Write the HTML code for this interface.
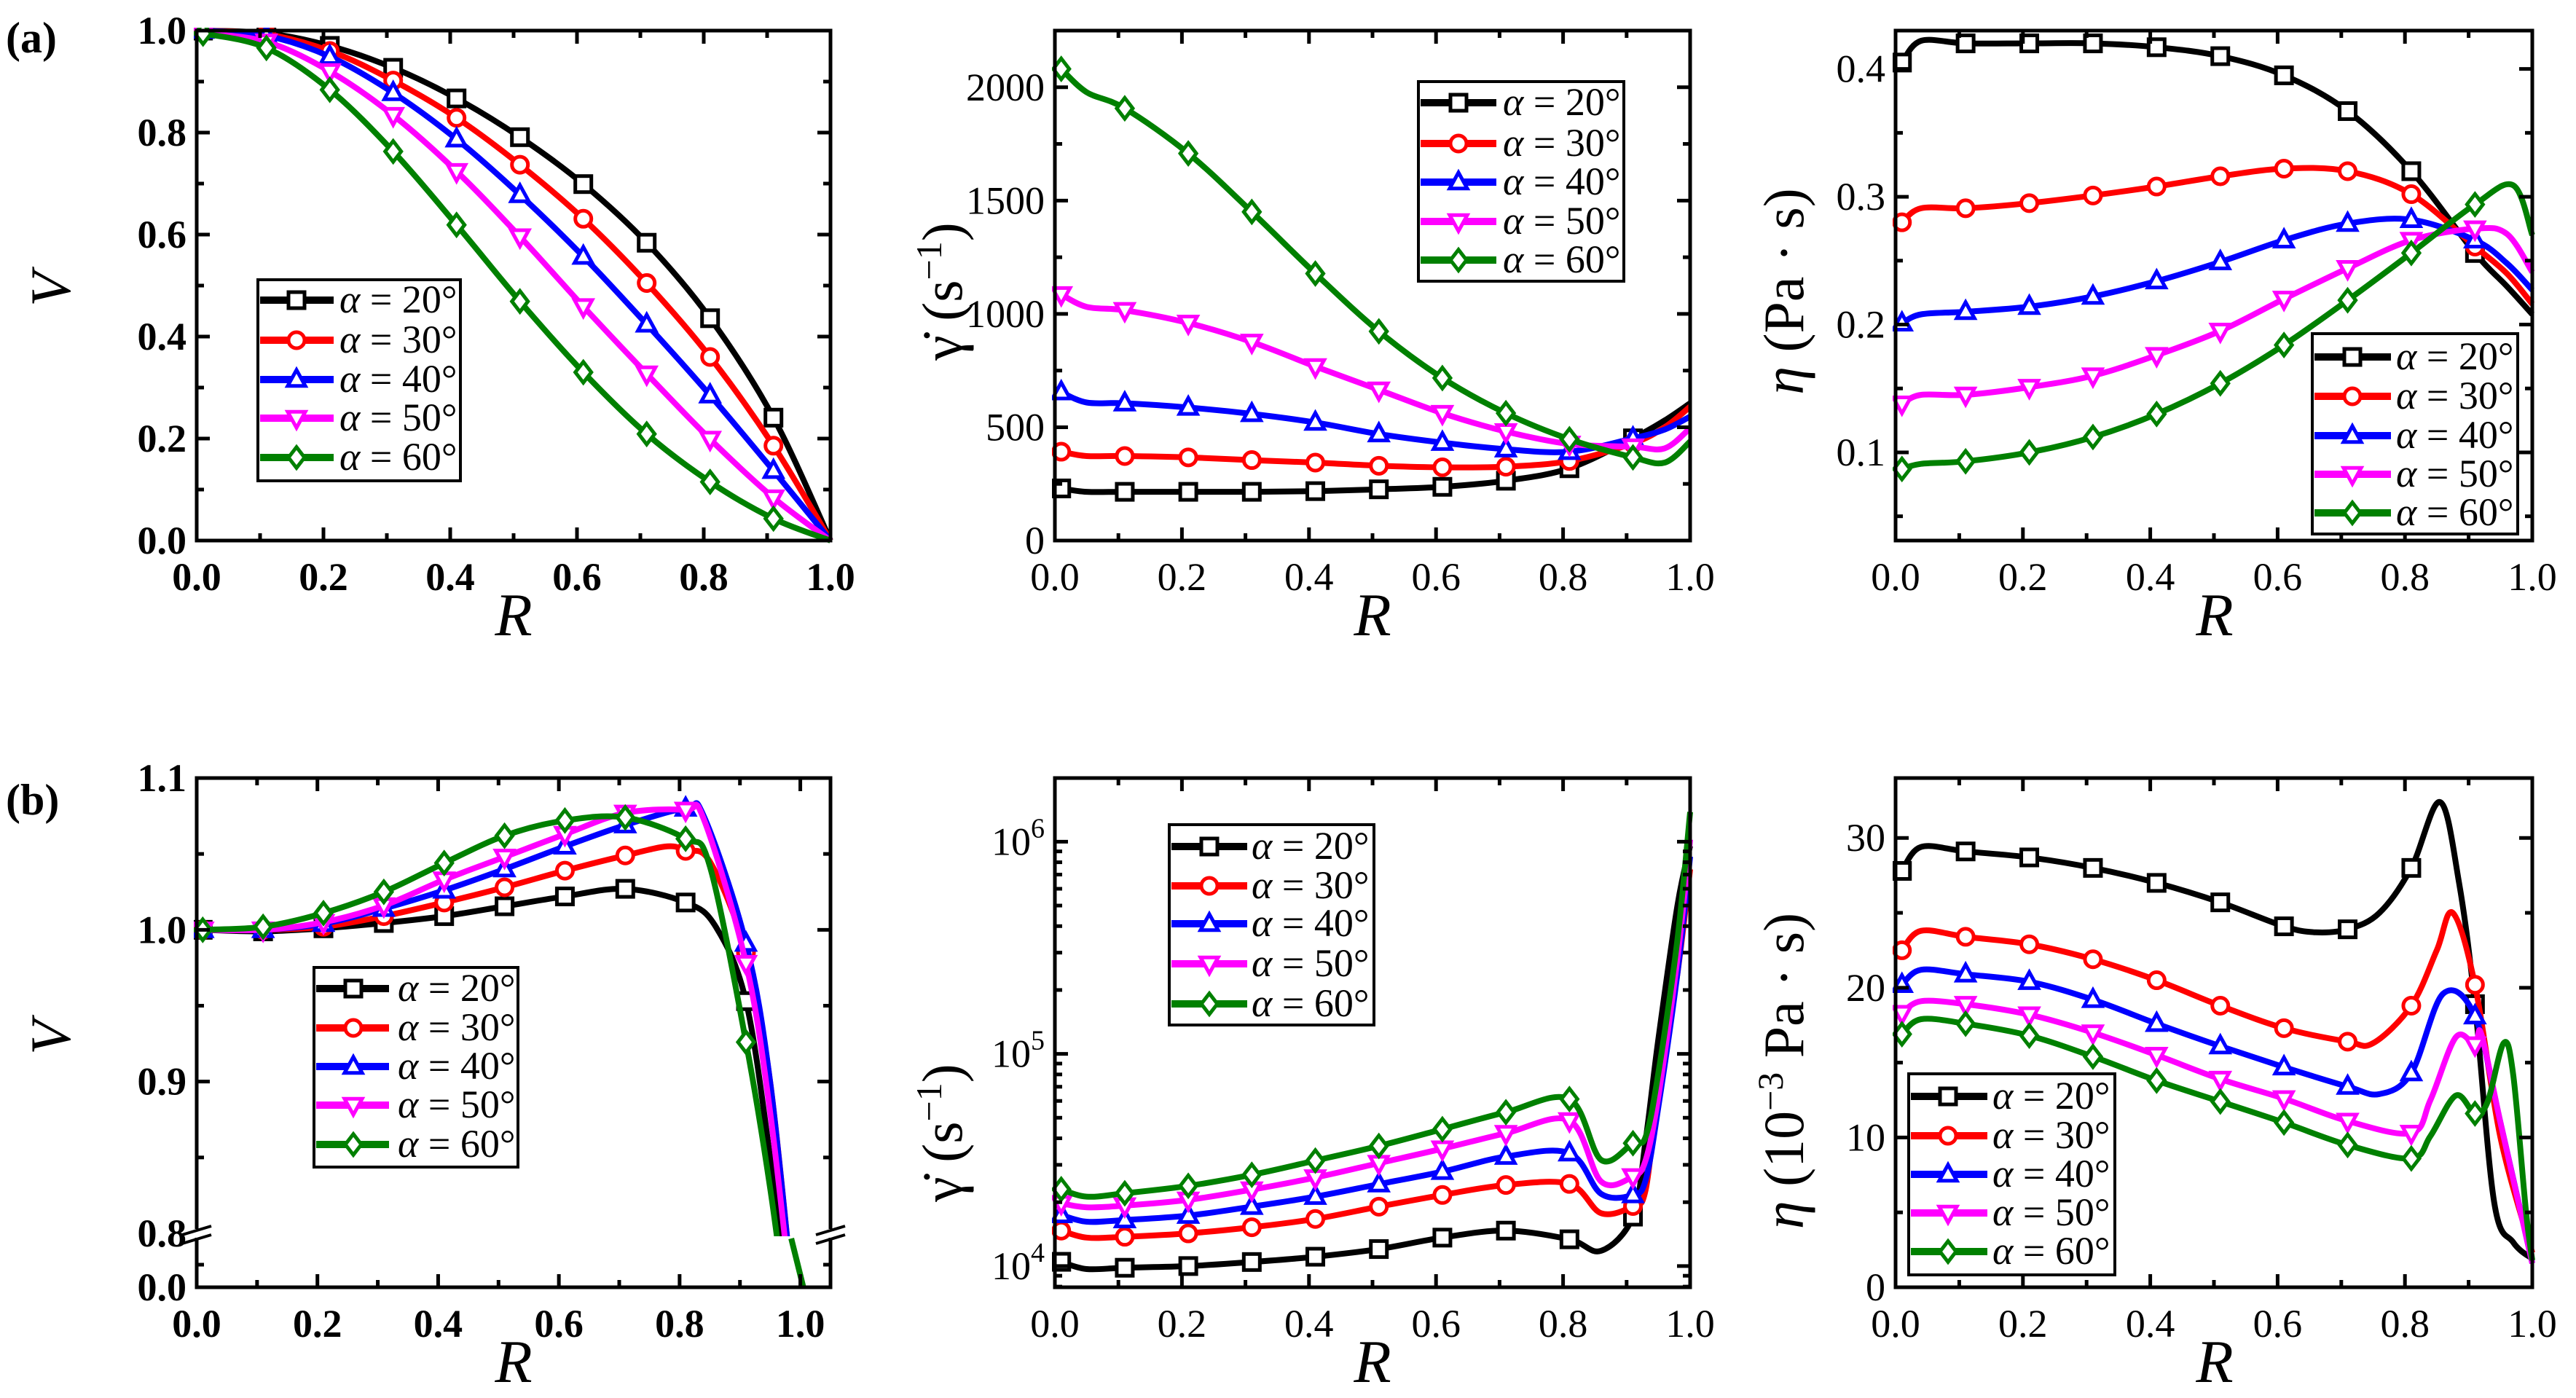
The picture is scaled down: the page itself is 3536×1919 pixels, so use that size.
<!DOCTYPE html>
<html><head><meta charset="utf-8"><style>
html,body{margin:0;padding:0;background:#fff;}
svg{display:block;font-family:"Liberation Serif","DejaVu Serif",serif;}
</style></head><body>
<svg id="fig" xmlns="http://www.w3.org/2000/svg" width="3536" height="1919" viewBox="0 0 3536 1919" font-family="Liberation Serif, DejaVu Serif, serif">
<rect width="3536" height="1919" fill="#fff"/>
<text x="8" y="72" font-size="60" font-weight="bold">(a)</text>
<text x="8" y="1118" font-size="60" font-weight="bold">(b)</text>
</svg>
<script>
// ---------- data ----------
const alphaLabels = ["20","30","40","50","60"];
const seriesColors = ["#000000","#ff0000","#0000ff","#ff00ff","#008000"];
const markerShapes = ["square","circle","up","down","diamond"];
const markerR = [0.01,0.11,0.21,0.31,0.41,0.51,0.61,0.71,0.81,0.91];

// a1: V vs R
const a1R = [0,0.01,0.11,0.21,0.31,0.41,0.51,0.61,0.71,0.81,0.91,1.0];
const a1Black = [1.0,1.0,0.995,0.97,0.927,0.867,0.791,0.699,0.584,0.436,0.241,0.0];
const a1Red = [1.0,1.0,0.993,0.96,0.902,0.829,0.737,0.631,0.505,0.36,0.186,0];
const a1Blue = [1,1,0.99,0.949,0.878,0.787,0.678,0.557,0.424,0.285,0.137,0];
const a1Magenta = [1,0.995,0.978,0.92,0.834,0.724,0.596,0.459,0.327,0.199,0.084,0];
const a1Green = [0.99,0.994,0.966,0.884,0.763,0.619,0.469,0.33,0.209,0.115,0.043,0];

// a2: shear rate vs R
const a2R = [0.01,0.05,0.11,0.21,0.31,0.41,0.51,0.61,0.71,0.81,0.91,0.96,1.0];
const a2Black = [230,215,215,215,215,218,226,237,264,319,451,530,606];
const a2Red = [392,373,373,367,355,344,330,323,326,351,429,500,591];
const a2Blue = [655,609,606,587,559,521,470,432,403,392,451,490,547];
const a2Magenta = [1086,1031,1016,960,876,768,665,562,481,426,414,407,496];
const a2Green = [2081,1978,1907,1708,1450,1178,923,717,562,447,367,344,437];

// a3: viscosity vs R
const a3R = [0.01,0.04,0.11,0.21,0.31,0.41,0.51,0.61,0.71,0.81,0.91,0.96,1.0];
const a3RGreen = [0.01,0.04,0.11,0.21,0.31,0.41,0.51,0.61,0.71,0.81,0.91,0.97,1.0];
const a3Black = [0.405,0.422,0.42,0.42,0.42,0.417,0.41,0.395,0.367,0.32,0.256,0.23,0.208];
const a3Red = [0.28,0.291,0.291,0.295,0.301,0.308,0.316,0.322,0.32,0.302,0.261,0.24,0.216];
const a3Blue = [0.201,0.208,0.21,0.214,0.222,0.234,0.249,0.266,0.279,0.282,0.266,0.248,0.227];
const a3Magenta = [0.138,0.145,0.145,0.151,0.160,0.176,0.195,0.220,0.244,0.266,0.275,0.271,0.241];
const a3Green = [0.087,0.091,0.093,0.100,0.112,0.130,0.154,0.184,0.219,0.256,0.294,0.309,0.27];

// b1: V vs R (broken axis)
const b1RBlack = [0.01,0.11,0.21,0.31,0.41,0.51,0.61,0.71,0.81,0.86,0.91,0.95,0.98];
const b1Black = [1.0,0.999,1.001,1.0045,1.009,1.0155,1.022,1.027,1.018,1.002,0.953,0.85,0.75];
const b1RRed = [0.01,0.11,0.21,0.31,0.41,0.51,0.61,0.71,0.78,0.81,0.85,0.91,0.95,0.99];
const b1Red = [1,1,1.002,1.009,1.018,1.028,1.039,1.049,1.055,1.052,1.045,0.985,0.9,0.75];
const b1RBlue = [0.01,0.11,0.21,0.31,0.41,0.51,0.61,0.71,0.81,0.84,0.91,0.95,0.99];
const b1Blue = [1,1,1.004,1.014,1.026,1.040,1.055,1.069,1.080,1.075,0.991,0.9,0.75];
const b1Magenta = [1,1,1.005,1.016,1.033,1.048,1.063,1.077,1.079,1.073,0.978,0.88,0.74];
const b1RGreen = [0.01,0.11,0.21,0.31,0.41,0.51,0.61,0.71,0.81,0.85,0.91,0.95,0.98];
const b1Green = [1,1.002,1.011,1.025,1.044,1.062,1.072,1.074,1.06,1.042,0.926,0.83,0.74];
const b1GreenLowR = [0.985,1.005];
const b1GreenLow = [0.8,0.0];

// b2: log10 of shear rate vs R
const b2R = [0.01,0.05,0.11,0.21,0.31,0.41,0.51,0.61,0.71,0.81,0.86,0.91,0.93,0.95,0.98,1.0];
const b2BlackLog = [4.02,3.986,3.992,4.0,4.019,4.044,4.08,4.134,4.167,4.126,4.072,4.233,4.595,5.07,5.70,5.98];
const b2RedLog = [4.167,4.134,4.138,4.154,4.183,4.222,4.28,4.335,4.382,4.387,4.249,4.283,4.36,4.83,5.38,5.87];
const b2BlueLog = [4.241,4.209,4.217,4.238,4.28,4.327,4.386,4.445,4.516,4.532,4.34,4.335,4.406,4.75,5.38,5.93];
const b2MagentaLog = [4.296,4.277,4.285,4.312,4.36,4.417,4.485,4.553,4.626,4.686,4.398,4.422,4.5,4.8,5.45,6.01];
const b2GreenLog = [4.362,4.327,4.343,4.378,4.43,4.497,4.566,4.645,4.725,4.787,4.50,4.579,4.61,4.91,5.54,6.14];

// b3: viscosity (1e-3 Pa s) vs R
const b3RBlack = [0.01,0.04,0.11,0.21,0.31,0.41,0.51,0.61,0.66,0.71,0.76,0.81,0.855,0.885,0.91,0.94,0.97,1.0];
const b3Black = [27.8,29.4,29.1,28.7,28.0,27.0,25.7,24.1,23.7,23.9,25.0,28.0,32.4,27,18.9,5.7,3.0,1.9];
const b3RRed = [0.01,0.04,0.11,0.21,0.31,0.41,0.51,0.61,0.71,0.75,0.81,0.85,0.875,0.91,0.95,1.0];
const b3Red = [22.5,23.8,23.4,22.9,21.9,20.5,18.8,17.3,16.4,16.3,18.8,22.5,25.0,20.2,10,2.3];
const b3RBlue = [0.01,0.04,0.11,0.21,0.31,0.41,0.51,0.61,0.71,0.76,0.81,0.86,0.91,0.95,1.0];
const b3Blue = [20.2,21.2,20.9,20.4,19.2,17.6,16.1,14.7,13.4,12.9,14.3,19.6,18.1,11,1.6];
const b3RMagenta = [0.01,0.04,0.11,0.21,0.31,0.41,0.51,0.61,0.71,0.81,0.84,0.88,0.91,0.92,0.95,1.0];
const b3Magenta = [18.3,19.1,18.9,18.2,17.0,15.5,13.9,12.6,11.1,10.3,12.5,16.7,16.2,16.9,11,1.6];
const b3RGreen = [0.01,0.04,0.11,0.21,0.31,0.41,0.51,0.61,0.71,0.81,0.84,0.88,0.91,0.93,0.955,0.97,0.99,1.0];
const b3Green = [16.9,17.9,17.6,16.8,15.4,13.8,12.4,11.0,9.5,8.6,10.1,12.8,11.6,12.4,16.3,14.2,5.1,1.8];

// ---------- drawing ----------
const NS = "http://www.w3.org/2000/svg";
const svg = document.getElementById("fig");
function mk(tag, attrs, parent){ const e=document.createElementNS(NS,tag); for(const k in attrs) e.setAttribute(k,attrs[k]); (parent||svg).appendChild(e); return e; }

function smooth(pts){
  let d = "M"+pts[0][0].toFixed(1)+","+pts[0][1].toFixed(1);
  const n = pts.length;
  for(let i=0;i<n-1;i++){
    const p0=pts[Math.max(i-1,0)], p1=pts[i], p2=pts[i+1], p3=pts[Math.min(i+2,n-1)];
    const c1=[p1[0]+(p2[0]-p0[0])/6, p1[1]+(p2[1]-p0[1])/6];
    const c2=[p2[0]-(p3[0]-p1[0])/6, p2[1]-(p3[1]-p1[1])/6];
    d += " C"+c1[0].toFixed(1)+","+c1[1].toFixed(1)+" "+c2[0].toFixed(1)+","+c2[1].toFixed(1)+" "+p2[0].toFixed(1)+","+p2[1].toFixed(1);
  }
  return d;
}
function interp(xs, ys, x){
  for(let i=0;i<xs.length-1;i++){ if(x>=xs[i] && x<=xs[i+1]){ const t=(x-xs[i])/(xs[i+1]-xs[i]); return ys[i]+t*(ys[i+1]-ys[i]); } }
  return x<xs[0]?ys[0]:ys[ys.length-1];
}
function marker(g, shape, cx, cy, color, s){
  const a = {fill:"#fff", stroke:color, "stroke-width":5};
  let e;
  if(shape==="square") e=mk("rect",Object.assign({x:cx-s,y:cy-s,width:2*s,height:2*s},a),g);
  else if(shape==="circle") e=mk("circle",Object.assign({cx:cx,cy:cy,r:s},a),g);
  else if(shape==="up") e=mk("polygon",Object.assign({points:`${cx},${cy-s*1.2} ${cx-s*1.1},${cy+s*0.8} ${cx+s*1.1},${cy+s*0.8}`},a),g);
  else if(shape==="down") e=mk("polygon",Object.assign({points:`${cx},${cy+s*1.2} ${cx-s*1.1},${cy-s*0.8} ${cx+s*1.1},${cy-s*0.8}`},a),g);
  else e=mk("polygon",Object.assign({points:`${cx},${cy-s*1.3} ${cx+s},${cy} ${cx},${cy+s*1.3} ${cx-s},${cy}`},a),g);
  
  
}

function axesFrame(P, name){
  const r = mk("rect",{x:P.x,y:P.y,width:P.w,height:P.h,fill:"none",stroke:"#000","stroke-width":5});
  
  
}
function tick(x1,y1,x2,y2){ const l=mk("line",{x1,y1,x2,y2,stroke:"#000","stroke-width":5});   }
function label(x,y,txt,anchor,size,bold,name){
  const t=mk("text",{x,y,"text-anchor":anchor,"font-size":size});
  if(bold) t.setAttribute("font-weight","bold");
  t.textContent=txt;
  
  
  return t;
}
function xAxis(P, bold, labelY){
  const sx=v=>P.x+(v/P.xmax)*P.w;
  for(let k=0;k*0.1<=P.xmax+1e-9;k++){
    const v=k*0.1, x=sx(v), major=(k%2===0), L=major?18:10;
    tick(x,P.y+P.h,x,P.y+P.h-L); tick(x,P.y,x,P.y+L);
    if(major) label(x,labelY,v.toFixed(1),"middle",54,bold,"x-tick-label");
  }
}
function yTicksLinear(P, sy, vmin, vmax, step, minorStep, fmt, bold){
  const k0=Math.ceil(vmin/minorStep-1e-9), k1=Math.floor(vmax/minorStep+1e-9);
  const ratio=Math.round(step/minorStep);
  for(let k=k0;k<=k1;k++){
    const v=k*minorStep, y=sy(v), major=(k%ratio===0);
    const L=major?18:10;
    tick(P.x,y,P.x+L,y); tick(P.x+P.w,y,P.x+P.w-L,y);
    if(major) label(P.x-14,y+18,fmt(v),"end",54,bold,"y-tick-label");
  }
}
function drawSeries(P, clipId, Rs, Vs, sx, sy, idx, name, mR){
  const g=mk("g",{"clip-path":`url(#${clipId})`});
  
  
  const pts=Rs.map((r,i)=>[sx(r),sy(Vs[i])]);
  const p=mk("path",{d:smooth(pts),fill:"none",stroke:seriesColors[idx],"stroke-width":8,"stroke-linejoin":"round"},g);
  
  
  (mR||markerR).forEach(r=>{ if(r>=Rs[0]&&r<=Rs[Rs.length-1]) marker(g,markerShapes[idx],sx(r),sy(interp(Rs,Vs,r)),seriesColors[idx],11); });
}
function clip(id,x,y,w,h){ let defs=svg.querySelector("defs")||mk("defs",{}); mk("clipPath",{id},defs); const c=svg.querySelector("#"+id); mk("rect",{x:x-4,y:y-4,width:w+8,height:h+8},c); }
function legend(name, bx, by, bw, bh, rowYs, lx1, lx2, mx, tx){
  const g=mk("g",{});
  
  
  mk("rect",{x:bx,y:by,width:bw,height:bh,fill:"#fff",stroke:"#000","stroke-width":4},g);
  rowYs.forEach((y,i)=>{
    const e=mk("g",{},g);
    
    
    mk("line",{x1:lx1,y1:y,x2:lx2,y2:y,stroke:seriesColors[i],"stroke-width":10},e);
    marker(e,markerShapes[i],mx,y,seriesColors[i],11);
    const t=mk("text",{x:tx,y:y+17,"font-size":54},e);
    t.innerHTML=`<tspan font-style="italic">α</tspan> = ${alphaLabels[i]}°`;
  });
}
function yTitle(x,y,html,name){
  const t=mk("text",{x:0,y:0,"text-anchor":"middle","font-size":78,transform:`translate(${x},${y}) rotate(-90)`});
  t.innerHTML=html;
  
  
}
function xTitle(x,y,name){
  const t=mk("text",{x,y,"text-anchor":"middle","font-size":84,"font-style":"italic"});
  t.textContent="R";
  
  
}

// ---------- panel a1 ----------
(function(){
  const P={x:270,y:42,w:870,h:700,xmax:1};
  const sx=v=>P.x+v/P.xmax*P.w, sy=v=>P.y+P.h-(v-0)/(1-0)*P.h;
  clip("ca1",P.x,P.y,P.w,P.h);
  [a1Black,a1Red,a1Blue,a1Magenta,a1Green].forEach((V,i)=>drawSeries(P,"ca1",a1R,V,sx,sy,i,"a1-series-alpha-"+alphaLabels[i]));
  axesFrame(P,"a1");
  xAxis(P,true,810);
  yTicksLinear(P,sy,0,1,0.2,0.1,v=>v.toFixed(1),true);
  legend("a1-legend",354,384,278,276,[412,467,521,574,628],357,458,407,466);
  yTitle(96,397,'<tspan font-style="italic">V</tspan>',"a1-y-axis-title");
  xTitle(705,872,"a1-x-axis-title");
})();

// ---------- panel a2 ----------
(function(){
  const P={x:1448,y:42,w:872,h:700,xmax:1};
  const ymax=2250;
  const sx=v=>P.x+v*P.w, sy=v=>P.y+P.h-v/ymax*P.h;
  clip("ca2",P.x,P.y,P.w,P.h);
  [a2Black,a2Red,a2Blue,a2Magenta,a2Green].forEach((V,i)=>drawSeries(P,"ca2",a2R,V,sx,sy,i,"a2-series-alpha-"+alphaLabels[i]));
  axesFrame(P,"a2");
  xAxis(P,false,810);
  yTicksLinear(P,sy,0,2000,500,250,v=>String(Math.round(v)),false);
  legend("a2-legend",1947,112,282,274,[141,197,250,304,357],1950,2054,2002,2063);
  yTitle(1320,400,'<tspan>γ̇</tspan> (s<tspan dy="-28" font-size="50">−1</tspan><tspan dy="28">)</tspan>',"a2-y-axis-title");
  xTitle(1884,872,"a2-x-axis-title");
})();

// ---------- panel a3 ----------
(function(){
  const P={x:2602,y:42,w:874,h:700,xmax:1};
  const ymin=0.031,ymax=0.430;
  const sx=v=>P.x+v*P.w, sy=v=>P.y+P.h-(v-ymin)/(ymax-ymin)*P.h;
  clip("ca3",P.x,P.y,P.w,P.h);
  [a3Black,a3Red,a3Blue,a3Magenta].forEach((V,i)=>drawSeries(P,"ca3",a3R,V,sx,sy,i,"a3-series-alpha-"+alphaLabels[i]));
  drawSeries(P,"ca3",a3RGreen,a3Green,sx,sy,4,"a3-series-alpha-60");
  axesFrame(P,"a3");
  xAxis(P,false,810);
  yTicksLinear(P,sy,ymin,ymax,0.1,0.05,v=>v.toFixed(1),false);
  legend("a3-legend",3174,458,282,275,[490,544,598,651,704],3177,3282,3229,3289);
  yTitle(2475,400,'<tspan font-style="italic">η</tspan> (Pa · s)',"a3-y-axis-title");
  xTitle(3040,872,"a3-x-axis-title");
})();

// ---------- panel b1 ----------
(function(){
  const P={x:270,y:1068,w:870,h:699,xmax:1.05};
  const yBreak=1693;
  const sx=v=>P.x+v/P.xmax*P.w;
  const sy=v=>yBreak-(v-0.8)/(1.1-0.8)*(yBreak-P.y);
  const syLow=v=>P.y+P.h-v/0.8*(P.y+P.h-1700);
  clip("cb1",P.x,P.y,P.w,yBreak-P.y);
  clip("cb1low",P.x,1700,P.w,P.y+P.h-1700);
  drawSeries(P,"cb1",b1RBlack,b1Black,sx,sy,0,"b1-series-alpha-20");
  drawSeries(P,"cb1",b1RRed,b1Red,sx,sy,1,"b1-series-alpha-30");
  drawSeries(P,"cb1",b1RBlue,b1Blue,sx,sy,2,"b1-series-alpha-40");
  drawSeries(P,"cb1",b1RBlue,b1Magenta,sx,sy,3,"b1-series-alpha-50");
  drawSeries(P,"cb1",b1RGreen,b1Green,sx,sy,4,"b1-series-alpha-60");
  drawSeries(P,"cb1low",b1GreenLowR,b1GreenLow,sx,syLow,4,"b1-series-alpha-60-lower",[]);
  axesFrame(P,"b1");
  xAxis(P,true,1835);
  [0.85,0.9,0.95,1.0,1.05,1.1].forEach(v=>{
    const y=sy(v), major=Math.abs(v*10-Math.round(v*10))<1e-6, L=major?18:10;
    tick(P.x,y,P.x+L,y); tick(P.x+P.w,y,P.x+P.w-L,y);
    if(major) label(P.x-14,y+18,v.toFixed(1),"end",54,true,"y-tick-label");
  });
  label(P.x-14,yBreak+18,"0.8","end",54,true,"y-tick-label");
  label(P.x-14,P.y+P.h+18,"0.0","end",54,true,"y-tick-label");
  tick(P.x,1736,P.x+10,1736); tick(P.x+P.w,1736,P.x+P.w-10,1736);
  [P.x,P.x+P.w].forEach((bx,k)=>{
    const g=mk("g",{});
    
    
    mk("rect",{x:bx-6,y:yBreak-6,width:12,height:12,fill:"#fff"},g);
    mk("line",{x1:bx-20,y1:yBreak+2,x2:bx+20,y2:yBreak-10,stroke:"#000","stroke-width":4},g);
    mk("line",{x1:bx-20,y1:yBreak+14,x2:bx+20,y2:yBreak+2,stroke:"#000","stroke-width":4},g);
  });
  legend("b1-legend",431,1328,280,274,[1357,1411,1464,1517,1571],434,534,485,546);
  yTitle(96,1424,'<tspan font-style="italic">V</tspan>',"b1-y-axis-title");
  xTitle(705,1897,"b1-x-axis-title");
})();

// ---------- panel b2 ----------
(function(){
  const P={x:1448,y:1068,w:872,h:699,xmax:1};
  const lmin=3.90,lmax=6.30;
  const sx=v=>P.x+v*P.w, sy=v=>P.y+P.h-(v-lmin)/(lmax-lmin)*P.h;
  clip("cb2",P.x,P.y,P.w,P.h);
  [b2BlackLog,b2RedLog,b2BlueLog,b2MagentaLog,b2GreenLog].forEach((V,i)=>drawSeries(P,"cb2",b2R,V,sx,sy,i,"b2-series-alpha-"+alphaLabels[i]));
  axesFrame(P,"b2");
  xAxis(P,false,1835);
  for(let d=3;d<=6;d++){
    for(let m=1;m<=9;m++){
      const l=d+Math.log10(m); if(l<lmin||l>lmax) continue;
      const y=sy(l), L=(m===1)?18:10;
      tick(P.x,y,P.x+L,y); tick(P.x+P.w,y,P.x+P.w-L,y);
      if(m===1){ const t=label(P.x-14,y+18,"","end",54,false,"y-tick-label"); t.innerHTML=`10<tspan dy="-24" font-size="38">${d}</tspan>`; }
    }
  }
  legend("b2-legend",1605,1132,281,275,[1162,1216,1268,1323,1378],1608,1712,1660,1718);
  yTitle(1320,1555,'<tspan>γ̇</tspan> (s<tspan dy="-28" font-size="50">−1</tspan><tspan dy="28">)</tspan>',"b2-y-axis-title");
  xTitle(1884,1897,"b2-x-axis-title");
})();

// ---------- panel b3 ----------
(function(){
  const P={x:2602,y:1068,w:874,h:699,xmax:1};
  const ymax=34;
  const sx=v=>P.x+v*P.w, sy=v=>P.y+P.h-v/ymax*P.h;
  clip("cb3",P.x,P.y,P.w,P.h);
  drawSeries(P,"cb3",b3RBlack,b3Black,sx,sy,0,"b3-series-alpha-20");
  drawSeries(P,"cb3",b3RRed,b3Red,sx,sy,1,"b3-series-alpha-30");
  drawSeries(P,"cb3",b3RBlue,b3Blue,sx,sy,2,"b3-series-alpha-40");
  drawSeries(P,"cb3",b3RMagenta,b3Magenta,sx,sy,3,"b3-series-alpha-50");
  drawSeries(P,"cb3",b3RGreen,b3Green,sx,sy,4,"b3-series-alpha-60");
  axesFrame(P,"b3");
  xAxis(P,false,1835);
  yTicksLinear(P,sy,0,ymax,10,5,v=>String(Math.round(v)),false);
  legend("b3-legend",2620,1474,283,276,[1505,1559,1612,1665,1718],2623,2728,2674,2735);
  yTitle(2475,1470,'<tspan font-style="italic">η</tspan> (10<tspan dy="-28" font-size="50">−3</tspan><tspan dy="28"> Pa · s)</tspan>',"b3-y-axis-title");
  xTitle(3040,1897,"b3-x-axis-title");
})();
</script>
</body></html>
